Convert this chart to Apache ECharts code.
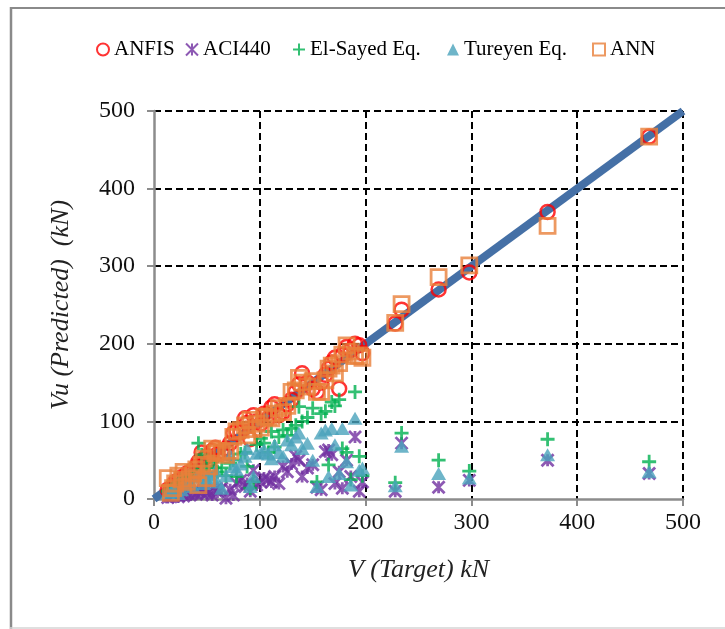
<!DOCTYPE html>
<html>
<head>
<meta charset="utf-8">
<script src="https://cdn.jsdelivr.net/npm/echarts@6/dist/echarts.min.js"></script>
<style>
  html, body { margin: 0; padding: 0; background: #fff; }
  #chart { width: 725px; height: 629px; }
</style>
</head>
<body>
<div id="chart"></div>
<script>
// Measured shear capacity of the specimens (kN)
const target = [13, 16, 18, 20, 23, 26, 28, 31, 34, 37, 40, 42, 45, 47, 50, 52, 55, 58, 60, 64,
  68, 72, 75, 78, 82, 86, 88, 91, 94, 97, 101, 104, 108, 111, 114, 118, 122, 126, 130, 134,
  137, 140, 145, 150, 154, 158, 162, 165, 168, 171, 175, 178, 182, 186, 190, 194, 197,
  228, 234, 269, 298, 372, 468];

// Predicted shear capacity for each model (kN)
const anfis = [12, 14, 16, 22, 24, 28, 22, 33, 35, 36, 42, 48, 60, 52, 55, 50, 62, 66, 58, 62,
  65, 72, 85, 88, 86, 104, 98, 77, 108, 100, 97, 110, 104, 118, 122, 108, 112, 122, 128, 138,
  148, 162, 150, 142, 138, 150, 160, 168, 176, 182, 142, 186, 196, 192, 200, 198, 188,
  226, 244, 270, 292, 370, 467];
const aci440 = [2, 3, 4, 5, 3, 6, 4, 7, 5, 8, 6, 10, 8, 12, 7, 10, 5, 12, 9, 14,
  1, 12, 5, 20, 24, 16, 20, 10, 37, 18, 22, 27, 25, 22, 29, 20, 42, 35, 45, 55,
  50, 29, 40, 44, 15, 12, 61, 63, 57, 20, 35, 14, 50, 29, 80, 10, 22,
  10, 72, 15, 24, 50, 33];
const elSayed = [10, 12, 14, 18, 20, 25, 22, 26, 30, 28, 35, 72, 57, 38, 42, 30, 48, 40, 35, 40,
  30, 46, 50, 29, 58, 60, 42, 14, 22, 70, 78, 72, 60, 87, 67, 80, 89, 82, 91, 95,
  119, 100, 105, 117, 22, 110, 113, 44, 125, 120, 128, 65, 60, 25, 138, 55, 30,
  21, 85, 50, 36, 77, 48];
const tureyen = [8, 10, 12, 14, 7, 12, 18, 20, 22, 16, 28, 30, 35, 20, 25, 32, 28, 36, 22, 14,
  30, 57, 42, 38, 45, 55, 65, 16, 29, 59, 60, 63, 58, 52, 70, 60, 55, 76, 70, 80,
  85, 65, 72, 50, 16, 85, 89, 29, 91, 70, 33, 91, 48, 18, 104, 37, 40,
  17, 68, 33, 27, 57, 35];
const ann = [27, 8, 14, 20, 30, 25, 35, 22, 27, 33, 38, 18, 44, 52, 27, 42, 65, 59, 62, 60,
  57, 62, 80, 87, 89, 95, 82, 102, 90, 97, 92, 106, 106, 104, 110, 117, 112, 120, 138, 140,
  156, 150, 145, 152, 138, 138, 153, 168, 172, 162, 175, 186, 198, 190, 184, 185, 182,
  227, 251, 286, 301, 352, 467];

// Line of perfect agreement
const identity = [[0, 0], [500, 500]];

const axisTicks = { min: 0, max: 500, interval: 100 };

const serif = '"Liberation Serif", "DejaVu Serif", serif';
const pairs = (ys) => target.map((x, i) => [x, ys[i]]);

const starPath = 'path://M0 0 L10 10 M10 0 L0 10 M5 0 L5 10';
const plusPath = 'path://M5 0 L5 10 M0 5 L10 5';
const clear = 'rgba(255,255,255,0)';

const chart = echarts.init(document.getElementById('chart'), null, { renderer: 'canvas' });

function legendAt(name, left) {
  return {
    data: [name], left: left, top: 39, padding: 0, itemWidth: 12, itemHeight: 12, itemGap: 0,
    textStyle: { fontFamily: serif, fontSize: 21, color: '#000' },
    selectedMode: false
  };
}

chart.setOption({
  animation: false,
  backgroundColor: '#fff',
  graphic: [
    { type: 'line', shape: { x1: 11, y1: 7, x2: 11, y2: 629 }, style: { stroke: '#8a8a8a', lineWidth: 2.5 } },
    { type: 'line', shape: { x1: 10, y1: 8, x2: 725, y2: 8 }, style: { stroke: '#8a8a8a', lineWidth: 2 } },
    { type: 'line', shape: { x1: 10, y1: 628, x2: 725, y2: 628 }, style: { stroke: '#d4d4d4', lineWidth: 1.5 } }
  ],
  legend: [
    legendAt('ANFIS', 96),
    legendAt('ACI440', 185),
    legendAt('El-Sayed Eq.', 292),
    legendAt('Tureyen Eq.', 447),
    legendAt('ANN', 592)
  ],
  grid: { left: 154, right: 42, top: 111, bottom: 130 },
  xAxis: {
    type: 'value', min: axisTicks.min, max: axisTicks.max, interval: axisTicks.interval,
    name: 'V (Target) kN', nameLocation: 'middle', nameGap: 58,
    nameTextStyle: { fontFamily: serif, fontSize: 26, fontStyle: 'italic', color: '#222' },
    axisLine: { lineStyle: { color: '#8c8c8c', width: 2.5 } },
    axisTick: { show: true, length: 7, lineStyle: { color: '#8c8c8c', width: 2 } },
    axisLabel: { fontFamily: serif, fontSize: 24, color: '#111', margin: 12 },
    splitLine: { show: true, lineStyle: { color: [clear, '#000', '#000', '#000', '#000', '#000'], width: 2, type: [7, 4] } }
  },
  yAxis: {
    type: 'value', min: axisTicks.min, max: axisTicks.max, interval: axisTicks.interval,
    name: 'Vu (Predicted)  (kN)', nameLocation: 'middle', nameGap: 80,
    nameTextStyle: { fontFamily: serif, fontSize: 26, fontStyle: 'italic', color: '#222' },
    axisLine: { show: true, lineStyle: { color: '#8c8c8c', width: 2.5 } },
    axisTick: { show: true, length: 7, lineStyle: { color: '#8c8c8c', width: 2 } },
    axisLabel: { fontFamily: serif, fontSize: 24, color: '#111', margin: 19 },
    splitLine: { show: true, lineStyle: { color: [clear, '#000', '#000', '#000', '#000', '#000'], width: 2, type: [7, 4] } }
  },
  series: [
    {
      name: 'Identity', type: 'line', data: identity, symbol: 'none', silent: true,
      lineStyle: { color: '#4570a6', width: 8 }, z: 1
    },
    {
      name: 'ANFIS', type: 'scatter', data: pairs(anfis), symbol: 'circle', symbolSize: 14,
      itemStyle: { color: clear, borderColor: '#ff0000', borderWidth: 2.5 }, z: 2
    },
    {
      name: 'ACI440', type: 'scatter', data: pairs(aci440), symbol: starPath, symbolSize: 12,
      itemStyle: { color: clear, borderColor: '#7030a0', borderWidth: 2.8 }, z: 3
    },
    {
      name: 'El-Sayed Eq.', type: 'scatter', data: pairs(elSayed), symbol: plusPath, symbolSize: 14,
      itemStyle: { color: clear, borderColor: '#00b050', borderWidth: 2.8 }, z: 4
    },
    {
      name: 'Tureyen Eq.', type: 'scatter', data: pairs(tureyen), symbol: 'triangle', symbolSize: [15, 13],
      itemStyle: { color: '#4aa3bc' }, z: 5
    },
    {
      name: 'ANN', type: 'scatter', data: pairs(ann), symbol: 'rect', symbolSize: 15,
      itemStyle: { color: clear, borderColor: '#e8803a', borderWidth: 2.8 }, z: 6
    }
  ]
});
</script>
</body>
</html>
